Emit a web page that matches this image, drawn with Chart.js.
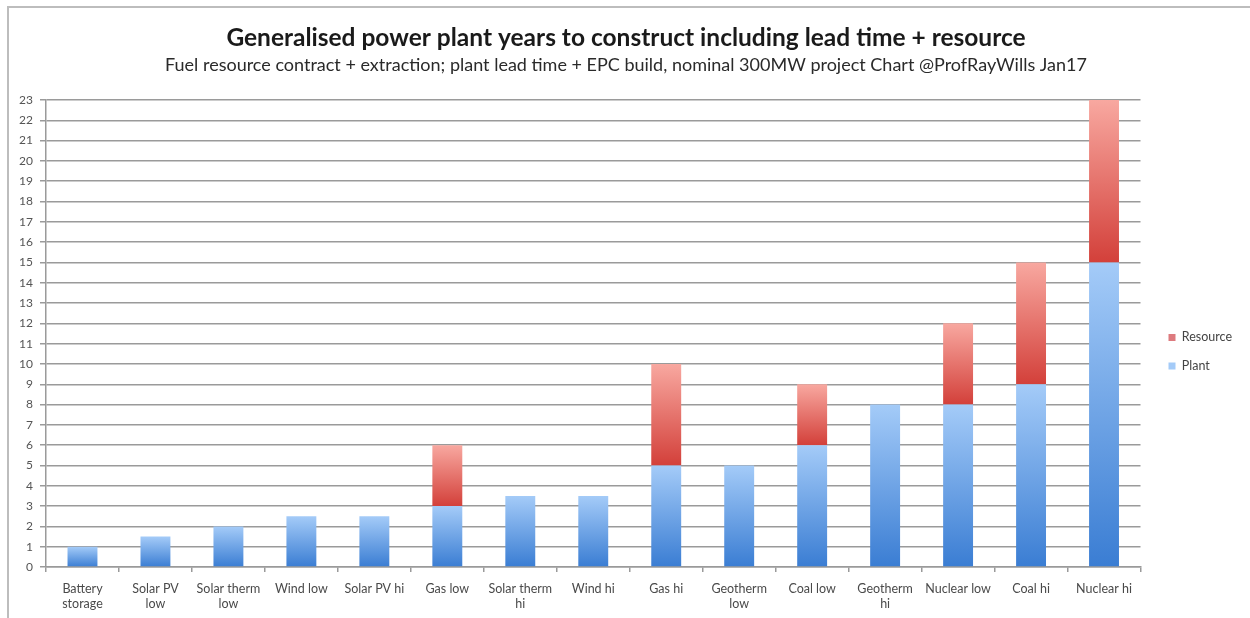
<!DOCTYPE html>
<html>
<head>
<meta charset="utf-8">
<script src="https://cdn.jsdelivr.net/npm/chart.js@4.4.1/dist/chart.umd.min.js"></script>
<style>
  html, body { margin: 0; padding: 0; background: #ffffff; }
  #wrap { width: 1250px; height: 618px; }
</style>
</head>
<body>
<div id="wrap"><canvas id="chart" width="1250" height="618"></canvas></div>
<script>
// Power plant types, cheapest-to-build first
const categories = [
  ['Battery', 'storage'], ['Solar PV', 'low'], ['Solar therm', 'low'], 'Wind low', 'Solar PV hi',
  'Gas low', ['Solar therm', 'hi'], 'Wind hi', 'Gas hi', ['Geotherm', 'low'],
  'Coal low', ['Geotherm', 'hi'], 'Nuclear low', 'Coal hi', 'Nuclear hi'
];
// Years for plant lead time + EPC build
const plantYears = [1, 1.5, 2, 2.5, 2.5, 3, 3.5, 3.5, 5, 5, 6, 8, 8, 9, 15];
// Years for fuel resource contract + extraction
const resourceYears = [0, 0, 0, 0, 0, 3, 0, 0, 5, 0, 3, 0, 4, 6, 8];
// Value axis range
const yMin = 0;
const yMax = 23;
const yStep = 1;

const titleText = 'Generalised power plant years to construct including lead time + resource';
const subtitleText = 'Fuel resource contract + extraction; plant lead time + EPC build, nominal 300MW project Chart @ProfRayWills Jan17';

const FONT = 'Lato, "Open Sans", "Liberation Sans", sans-serif';

// Vertical shading for one stacked segment, light at its top, deep at its base
function segmentShade(context, baseValues, values, light, deep, flat) {
  const chart = context.chart;
  const y = chart.scales && chart.scales.y;
  if (context.type !== 'data' || !y || !chart.chartArea) return flat;
  const i = context.dataIndex;
  const lo = baseValues ? baseValues[i] : 0;
  const hi = lo + values[i];
  const pTop = y.getPixelForValue(hi);
  const pBot = y.getPixelForValue(lo);
  if (!isFinite(pTop) || !isFinite(pBot) || Math.abs(pBot - pTop) < 0.5) return flat;
  const g = chart.ctx.createLinearGradient(0, pTop, 0, pBot);
  g.addColorStop(0, light);
  g.addColorStop(1, deep);
  return g;
}

// Light grey frame around the whole figure
const framePlugin = {
  id: 'frame',
  beforeDraw(chart) {
    const c = chart.ctx;
    c.save();
    c.fillStyle = '#ffffff';
    c.fillRect(0, 0, chart.width, chart.height);
    c.strokeStyle = '#bdbdbd';
    c.lineWidth = 2;
    c.strokeRect(8, 7, chart.width + 20, chart.height + 20);
    c.restore();
  }
};

new Chart(document.getElementById('chart'), {
  type: 'bar',
  data: {
    labels: categories,
    datasets: [
      {
        label: 'Plant',
        data: plantYears,
        backgroundColor: (ctx) => segmentShade(ctx, null, plantYears, '#a4cbf8', '#3a7dd3', '#7ba7e2'),
        borderWidth: 0,
        barPercentage: 0.41,
        categoryPercentage: 1.0
      },
      {
        label: 'Resource',
        data: resourceYears,
        backgroundColor: (ctx) => segmentShade(ctx, plantYears, resourceYears, '#f8a8a0', '#d3403a', '#dd7a7e'),
        borderWidth: 0,
        barPercentage: 0.41,
        categoryPercentage: 1.0
      }
    ]
  },
  options: {
    responsive: false,
    animation: false,
    layout: { padding: { left: 10, right: 8, top: 0, bottom: 0 } },
    scales: {
      x: {
        stacked: true,
        offset: true,
        grid: {
          display: true,
          drawOnChartArea: false,
          drawTicks: true,
          tickLength: 5,
          color: '#9a9a9a',
          lineWidth: 1.5,
          offset: true
        },
        border: { display: true, color: '#9a9a9a', width: 1.5 },
        ticks: {
          autoSkip: false,
          maxRotation: 0,
          minRotation: 0,
          padding: 9,
          color: '#4a4a4a',
          font: { family: FONT, size: 12.5, lineHeight: 1.2 }
        },
        afterFit(scale) { scale.height = 51; }
      },
      y: {
        stacked: true,
        min: yMin,
        max: yMax,
        ticks: {
          stepSize: yStep,
          padding: 7,
          color: '#555555',
          font: { family: FONT, size: 12 }
        },
        grid: {
          color: '#9a9a9a',
          lineWidth: 1.5,
          tickLength: 6
        },
        border: { display: true, color: '#9a9a9a', width: 1.5 },
        afterFit(scale) { scale.width = 36; }
      },
      gap: {
        type: 'linear',
        position: 'right',
        display: true,
        grid: { display: false },
        border: { display: false },
        ticks: { display: false },
        afterFit(scale) { scale.width = 12; }
      }
    },
    plugins: {
      title: {
        display: true,
        text: titleText,
        color: '#1a1a1a',
        font: { family: FONT, size: 24.5, weight: 'bold', lineHeight: 1.2 },
        padding: { top: 23, bottom: 2 }
      },
      subtitle: {
        display: true,
        text: subtitleText,
        color: '#2a2a2a',
        font: { family: FONT, size: 18, weight: 'normal', lineHeight: 1.2 },
        padding: { top: 0, bottom: 24 }
      },
      legend: {
        display: true,
        position: 'right',
        fullSize: false,
        reverse: true,
        title: { display: true, text: ' ', padding: 11, font: { size: 12 } },
        labels: {
          boxWidth: 7,
          boxHeight: 7,
          padding: 16,
          color: '#444444',
          font: { family: FONT, size: 12.5 }
        }
      },
      tooltip: { enabled: false }
    }
  },
  plugins: [framePlugin]
});
</script>
</body>
</html>
